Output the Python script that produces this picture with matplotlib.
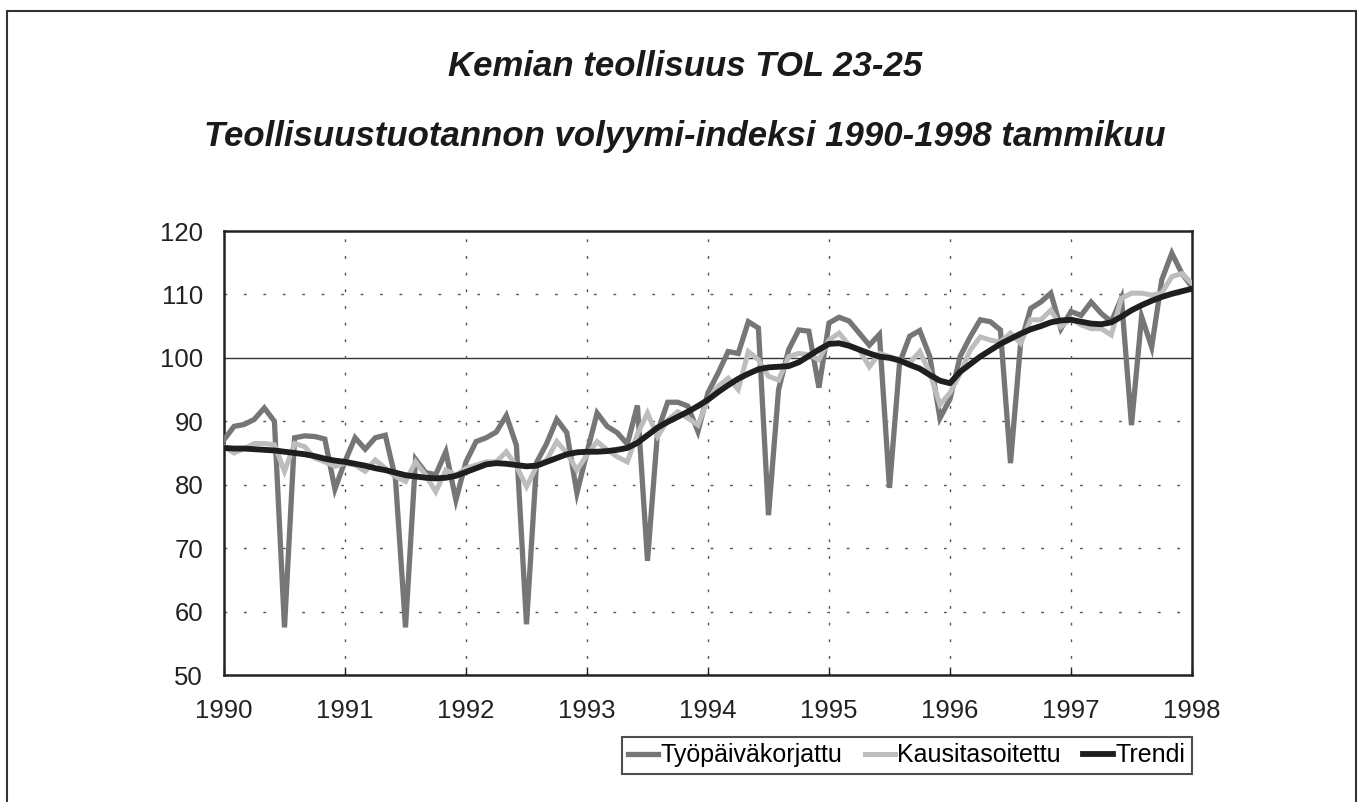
import matplotlib as mp
mp.use('Agg')
import matplotlib.pyplot as plt
from matplotlib.patches import Rectangle
import numpy as np

plt.rcParams['font.family'] = ['Liberation Sans', 'DejaVu Sans']

# monthly values, Jan 1990 .. Jan 1998
tyopaiva = [87.1, 89.2, 89.5, 90.3, 92.1, 90.0, 57.5, 87.4, 87.7, 87.6, 87.2, 79.3,
            83.7, 87.4, 85.6, 87.4, 87.8, 81.0, 57.5, 84.0, 81.9, 81.6, 85.2, 77.6,
            83.6, 86.8, 87.4, 88.3, 90.9, 86.2, 58.0, 83.5, 86.5, 90.3, 88.2, 78.7,
            85.1, 91.3, 89.2, 88.2, 86.4, 92.5, 68.0, 88.4, 93.0, 93.0, 92.4, 88.4,
            94.5, 97.6, 101.0, 100.7, 105.7, 104.7, 75.2, 95.0, 101.3, 104.4, 104.2, 95.3,
            105.5, 106.4, 105.8, 103.9, 102.0, 103.7, 79.5, 99.2, 103.4, 104.3, 100.2, 90.5,
            93.5, 100.2, 103.3, 106.0, 105.7, 104.4, 83.4, 102.3, 107.8, 108.8, 110.2, 104.6,
            107.3, 106.7, 108.8, 107.0, 105.7, 109.4, 89.4, 106.5, 101.7, 112.3, 116.5, 113.3,
            111.2]
kausi = [86.0, 85.0, 85.7, 86.5, 86.5, 86.3, 82.1, 86.5, 86.0, 84.2, 83.6, 82.9,
         83.4, 83.1, 82.1, 83.9, 82.6, 81.3, 80.5, 83.6, 81.5, 78.9, 82.3, 81.5,
         82.6, 83.1, 83.6, 83.6, 85.2, 82.9, 79.7, 82.9, 83.9, 86.8, 85.0, 82.3,
         84.7, 86.8, 85.5, 84.4, 83.6, 88.0, 91.3, 87.6, 90.2, 91.5, 90.5, 89.4,
         93.4, 95.5, 96.8, 95.0, 101.0, 99.7, 97.1, 96.5, 100.2, 100.7, 100.5, 99.7,
         102.8, 103.9, 102.0, 101.3, 98.6, 100.7, 100.2, 99.7, 99.2, 101.0, 97.6, 92.6,
         94.5, 97.5, 101.2, 103.3, 102.8, 102.5, 103.9, 102.3, 106.0, 106.0, 107.5, 104.9,
         106.2, 105.2, 104.6, 104.6, 103.6, 109.4, 110.2, 110.2, 109.9, 110.2, 112.8, 113.3,
         111.7]
trendi = [85.8, 85.7, 85.7, 85.6, 85.5, 85.4, 85.2, 85.0, 84.8, 84.5, 84.1, 83.8,
          83.6, 83.3, 83.0, 82.6, 82.3, 81.9, 81.5, 81.3, 81.1, 81.0, 81.1, 81.4,
          82.0, 82.6, 83.2, 83.4, 83.3, 83.1, 82.9, 83.0, 83.6, 84.2, 84.8, 85.1,
          85.2, 85.2, 85.3, 85.5, 85.8, 86.6, 87.8, 89.0, 89.9, 90.7, 91.5, 92.4,
          93.4, 94.6, 95.7, 96.7, 97.5, 98.2, 98.5, 98.6, 98.7, 99.3, 100.3, 101.3,
          102.2, 102.3, 101.9, 101.3, 100.7, 100.2, 100.0, 99.6, 98.9, 98.3, 97.3, 96.4,
          96.0, 97.8, 99.0, 100.2, 101.2, 102.2, 103.0, 103.8, 104.5, 105.0, 105.6, 105.9,
          106.0, 105.7, 105.4, 105.3, 105.6, 106.5, 107.5, 108.3, 109.0, 109.6, 110.1, 110.5,
          110.9]
years = list(range(1990, 1999))
yticks = [50, 60, 70, 80, 90, 100, 110, 120]

t = 1990 + np.arange(len(tyopaiva)) / 12.0

fig = plt.figure(figsize=(13.6, 8.02), dpi=100)
ax = fig.add_axes([224 / 1360, 1 - 675 / 802, 968 / 1360, 444 / 802])

# outer frame of the page
fig.patches.append(Rectangle((7 / 1360, -0.01), 1349 / 1360, 1 - 11 / 802 + 0.01,
                             transform=fig.transFigure, fill=False,
                             edgecolor='#333333', lw=1.5))

fig.text(685 / 1360, 1 - 76 / 802, 'Kemian teollisuus TOL 23-25', ha='center',
         va='baseline', fontsize=25, fontweight='bold', style='italic', color='#1a1a1a')
fig.text(685 / 1360, 1 - 146 / 802, 'Teollisuustuotannon volyymi-indeksi 1990-1998 tammikuu',
         ha='center', va='baseline', fontsize=25, fontweight='bold', style='italic',
         color='#1a1a1a')

# grid
for y in yticks[1:-1]:
    if y == 100:
        ax.axhline(y, color='#333333', lw=1.0, zorder=1)
    else:
        ax.axhline(y, color='#555555', lw=1.0, ls=(0, (2, 12)), zorder=1)
for yr in years[1:-1]:
    ax.axvline(yr, color='#555555', lw=1.0, ls=(0, (2, 10)), zorder=1)

ax.plot(t, tyopaiva, color='#767676', lw=3.8, label='Työpäiväkorjattu', zorder=3,
        solid_joinstyle='miter')
ax.plot(t, kausi, color='#bdbdbd', lw=3.6, label='Kausitasoitettu', zorder=4,
        solid_joinstyle='miter')
ax.plot(t, trendi, color='#1e1e1e', lw=4.2, label='Trendi', zorder=5)

ax.set_xlim(1990, 1998)
ax.set_ylim(50, 120)
ax.set_xticks(years)
ax.set_yticks(yticks)
ax.tick_params(axis='x', direction='in', length=6, width=1, pad=17, labelsize=18.5,
               colors='#222222')
ax.tick_params(axis='y', direction='in', length=0, pad=15, labelsize=18.5,
               colors='#222222')
for s in ax.spines.values():
    s.set_linewidth(1.8)
    s.set_color('#222222')

leg = fig.legend(loc='upper right', bbox_to_anchor=(1192 / 1360, 1 - 737 / 802),
                 ncol=3, fontsize=18, frameon=True, fancybox=False,
                 handlelength=1.2, handletextpad=0.1, columnspacing=0.9,
                 borderpad=0.25, borderaxespad=0)
leg.get_frame().set_edgecolor('#222222')
leg.get_frame().set_linewidth(1.5)

plt.savefig('out.png', dpi=100)
